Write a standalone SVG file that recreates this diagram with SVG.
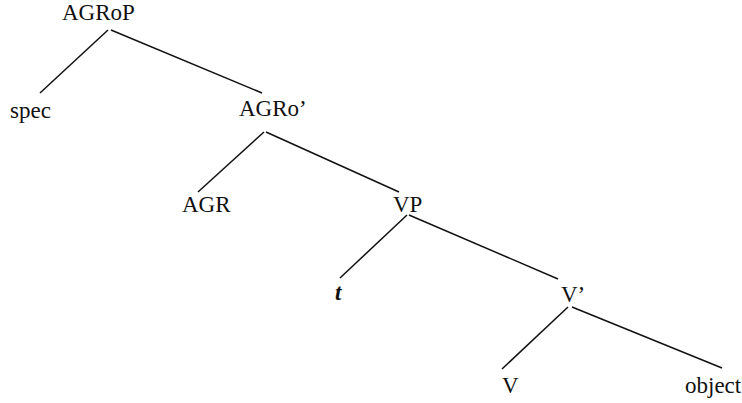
<svg xmlns="http://www.w3.org/2000/svg" width="742" height="403" viewBox="0 0 742 403">
<style>
.lb{font-family:'Liberation Serif',Tinos,'Times New Roman','DejaVu Serif',serif;font-size:23px;fill:#111}
.e line{stroke:#111;stroke-width:1.5}
.t{font-weight:bold;font-style:italic}
</style>
<rect width="742" height="403" fill="#fff"/>
<g class="e" id="connectors">
<line x1="108" y1="30" x2="40" y2="93"/>
<line x1="111" y1="30" x2="262" y2="93"/>
<line x1="264" y1="132" x2="198" y2="192"/>
<line x1="266" y1="132" x2="399" y2="192"/>
<line x1="407" y1="215" x2="340" y2="278"/>
<line x1="409" y1="215" x2="558" y2="279"/>
<line x1="568" y1="307" x2="502" y2="369"/>
<line x1="572" y1="307" x2="722" y2="368"/>
</g>
<g class="lb">
<g id="n-agrop"><text x="62" y="20">AGRoP</text></g>
<g id="n-spec"><text x="10" y="118">spec</text></g>
<g id="n-agro"><text x="239" y="116">AGRo’</text></g>
<g id="n-agr"><text x="182" y="212">AGR</text></g>
<g id="n-vp"><text x="393" y="212">VP</text></g>
<g id="n-t"><text class="t" x="335" y="300">t</text></g>
<g id="n-vbar"><text x="561" y="302">V’</text></g>
<g id="n-v"><text x="502" y="393">V</text></g>
<g id="n-obj"><text x="685" y="393">object</text></g>
</g>
</svg>
